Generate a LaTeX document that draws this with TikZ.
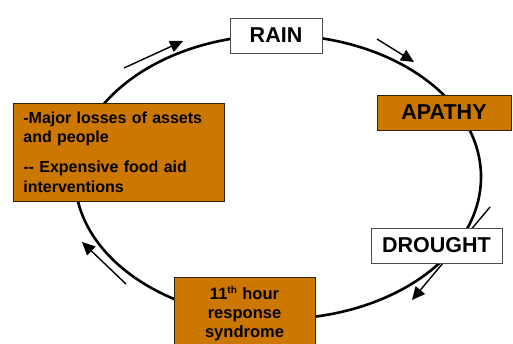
\documentclass[tikz,border=0pt]{standalone}
\usepackage{fontspec}
\setmainfont{Liberation Sans}
\usetikzlibrary{arrows.meta, positioning}

\definecolor{boxorange}{RGB}{204,119,0}

\begin{document}
\begin{tikzpicture}[x=1pt, y=-1pt,
    cycleline/.style={line width=2.6pt},
    flow/.style={line width=1.4pt, -{Triangle[length=13pt, width=12pt]}},
    plainbox/.style={draw=black!70, line width=0.8pt, fill=white, inner sep=0pt,
      font=\bfseries\fontsize{21.5}{24}\selectfont},
    orangebox/.style={draw=black!75!brown, line width=0.8pt, fill=boxorange, inner sep=0pt}]

  \useasboundingbox (0,0) rectangle (513,343);

  % Ellipse of the cycle
  \def\cx{278}
  \def\cy{177}
  \draw[cycleline] (\cx,\cy) ellipse [x radius=203, y radius=142];

  % === Direction arrows outside the cycle
  \coordinate (upleftA) at (124,68);
  \coordinate (upleftB) at (183,41);
  \coordinate (uprightA) at (377,39);
  \coordinate (uprightB) at (414,62);
  \coordinate (rightA) at (490,207);
  \coordinate (rightB) at (412,300);
  \coordinate (lowleftA) at (126,284);
  \coordinate (lowleftB) at (82,242);
  \draw[flow] (upleftA) -- (upleftB);
  \draw[flow] (uprightA) -- (uprightB);
  \draw[flow] (rightA) -- (rightB);
  \draw[flow] (lowleftA) -- (lowleftB);

  % === Boxes
  \node[plainbox, minimum width=92pt, minimum height=35pt] (rain) at (276,35.5) {RAIN};
  \node[orangebox, minimum width=134pt, minimum height=35pt,
    font=\bfseries\fontsize{21.5}{24}\selectfont] (apathy) at (444,112.5) {APATHY};
  \node[plainbox, minimum width=131pt, minimum height=35pt] (drought) at (436.5,245.5) {DROUGHT};

  \node[orangebox, anchor=north west, minimum width=211pt, minimum height=96pt,
    text width=191pt, inner xsep=10pt, inner ysep=8.5pt, align=left,
    font=\bfseries\fontsize{16}{19.5}\selectfont] (losses) at (13,103)
    {-Major losses of assets\\and people\\[10.5pt]-{}- Expensive food aid\\interventions};

  \node[orangebox, anchor=north, minimum width=141pt, minimum height=72pt,
    text width=141pt, inner xsep=0pt, inner ysep=9pt, align=center,
    font=\bfseries\fontsize{16.5}{19}\selectfont] (response) at (244.5,277)
    {11\raisebox{0.35em}{\fontsize{10}{10}\selectfont th} hour\\response\\syndrome};

\end{tikzpicture}
\end{document}
